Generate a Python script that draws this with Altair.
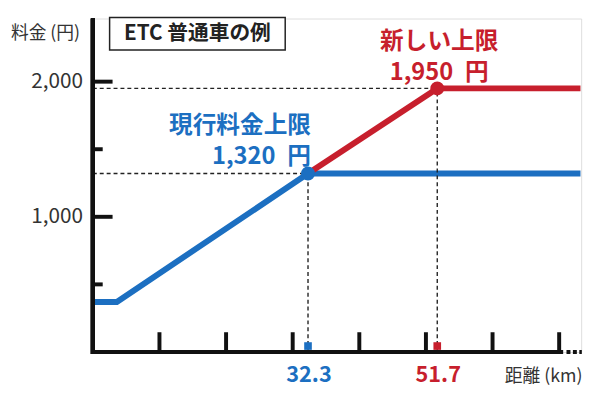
import altair as alt
import pandas as pd

# ---- data ----
km_blue = [0, 3.6, 32.3, 73.2]
fare_blue = [370, 370, 1320, 1320]
km_red = [32.3, 51.7, 73.2]
fare_red = [1320, 1950, 1950]

cap_km = [32.3, 51.7]
cap_fare = [1320, 1950]
cap_series = ["現行", "新"]
cap_label = ["現行料金上限\n1,320\u2002円", "新しい上限\n1,950\u2002円"]
cap_xlabel = ["32.3", "51.7"]

x_ticks = [10, 20, 30, 40, 50, 60, 70]
y_major = [1000, 2000]
y_major_labels = ["1,000", "2,000"]
y_minor = [500, 1500]

BLUE = "#1c6fc1"
RED = "#c71f2d"
FONT = "Noto Sans CJK JP"

W, H = 495, 338
xs = alt.Scale(domain=[0, 73.3], nice=False, zero=False)
ys = alt.Scale(domain=[0, 2467], nice=False, zero=False)

blue_df = pd.DataFrame({"km": km_blue, "fare": fare_blue})
red_df = pd.DataFrame({"km": km_red, "fare": fare_red})
cap_df = pd.DataFrame({"km": cap_km, "fare": cap_fare, "series": cap_series,
                       "label": cap_label, "xlabel": cap_xlabel,
                       "x0": [0, 0], "y0": [0, 0]})
cur_df = cap_df.iloc[[0]].reset_index(drop=True)
new_df = cap_df.iloc[[1]].reset_index(drop=True)
xt_df = pd.DataFrame({"km": x_ticks})
ymaj_df = pd.DataFrame({"fare": y_major, "lab": y_major_labels})
ymin_df = pd.DataFrame({"fare": y_minor})

def X(f="km:Q"):
    return alt.X(f, scale=xs, axis=None)

def Y(f="fare:Q"):
    return alt.Y(f, scale=ys, axis=None)

color = alt.Color("series:N", scale=alt.Scale(domain=cap_series, range=[BLUE, RED]), legend=None)

blue_line = alt.Chart(blue_df).mark_line(color=BLUE, strokeWidth=6, strokeCap="butt").encode(
    x=X(), y=Y())
red_line = alt.Chart(red_df).mark_line(color=RED, strokeWidth=6, strokeCap="butt").encode(
    x=X(), y=Y())

dash_h = alt.Chart(cap_df).mark_rule(color="#222", strokeWidth=1.4, strokeDash=[4, 3]).encode(
    x=X("x0:Q"), x2=alt.X2("km"), y=Y())
dash_v = alt.Chart(cap_df).mark_rule(color="#222", strokeWidth=1.4, strokeDash=[4, 3]).encode(
    x=X(), y=Y("y0:Q"), y2=alt.Y2("fare"))

points = alt.Chart(cap_df).mark_circle(size=200, opacity=1).encode(
    x=X(), y=Y(), color=color)

squares = alt.Chart(cap_df).mark_square(size=60, opacity=1, yOffset=-6).encode(
    x=X(), y=Y("y0:Q"), color=color)

# axes drawn as rules
y_axis_line = alt.Chart(xt_df).mark_rule(color="#111", strokeWidth=4).encode(
    x=alt.value(0), y=alt.value(0), y2=alt.value(H + 2))
axis_df = pd.DataFrame({"a": [0.0], "b": [70.6], "c": [71.1], "d": [73.4], "y": [0]})
x_axis_line = alt.Chart(axis_df).mark_rule(color="#111", strokeWidth=4).encode(
    x=X("a:Q"), x2=alt.X2("b"), y=Y("y:Q"))
x_axis_dash = alt.Chart(axis_df).mark_rule(
    color="#111", strokeWidth=4, strokeDash=[4, 2.5]).encode(
    x=X("c:Q"), x2=alt.X2("d"), y=Y("y:Q"))
x_tick_marks = alt.Chart(xt_df).mark_rule(color="#111", strokeWidth=4).encode(
    x=X(), y=alt.value(H), y2=alt.value(H - 20))
y_major_marks = alt.Chart(ymaj_df).mark_rule(color="#111", strokeWidth=4).encode(
    y=Y(), x=alt.value(0), x2=alt.value(20))
y_minor_marks = alt.Chart(ymin_df).mark_rule(color="#111", strokeWidth=4).encode(
    y=Y(), x=alt.value(0), x2=alt.value(10))
y_labels = alt.Chart(ymaj_df).mark_text(font=FONT, fontSize=21, color="#333",
                                        align="right", baseline="middle").encode(
    y=Y(), x=alt.value(-10), text="lab:N")

# annotation texts (two lines each)
t_cur = alt.Chart(cur_df).mark_text(
    font=FONT, fontSize=24, fontWeight="bold", baseline="middle", align="right",
    lineBreak="\n", lineHeight=31, dx=3, dy=-48, color=BLUE).encode(
    x=X(), y=Y(), text="label:N")
t_new = alt.Chart(new_df).mark_text(
    font=FONT, fontSize=24, fontWeight="bold", baseline="middle", align="center",
    lineBreak="\n", lineHeight=31, dx=2, dy=-47, color=RED).encode(
    x=X(), y=Y(), text="label:N")

xlab = alt.Chart(cap_df).mark_text(font=FONT, fontSize=22, fontWeight="bold",
                                   baseline="middle", dx=1).encode(
    x=X(), y=alt.value(H + 23), text="xlabel:N", color=color)

y_title_df = pd.DataFrame({"t": ["料金 (円)"]})
x_title_df = pd.DataFrame({"t": ["距離 (km)"]})
box_df = pd.DataFrame({"t": ["ETC 普通車の例"]})
ylab_title = alt.Chart(y_title_df).mark_text(
    font=FONT, fontSize=18, color="#333", baseline="middle", align="center").encode(
    x=alt.value(-48), y=alt.value(16), text="t:N")
xlab_title = alt.Chart(x_title_df).mark_text(
    font=FONT, fontSize=18, color="#333", baseline="middle", align="center").encode(
    x=alt.value(457), y=alt.value(H + 25), text="t:N")
box = alt.Chart(box_df).mark_rect(
    fill="white", stroke="#222", strokeWidth=1.5).encode(
    x=alt.value(17), x2=alt.value(195), y=alt.value(-1), y2=alt.value(32))
box_text = alt.Chart(box_df).mark_text(
    font=FONT, fontSize=21, fontWeight="bold", color="#222", baseline="middle",
    align="center").encode(x=alt.value(106), y=alt.value(16), text="t:N")

chart = alt.layer(
    blue_line, dash_h, dash_v, red_line, y_axis_line, x_axis_line, x_axis_dash,
    x_tick_marks, y_major_marks, y_minor_marks, y_labels, squares, points,
    t_cur, t_new, xlab, ylab_title, xlab_title, box, box_text,
).properties(
    width=W, height=H,
    autosize=alt.AutoSizeParams(type="none"),
    padding={"left": 86, "top": 8, "right": 11, "bottom": 45},
).configure_view(stroke=None).configure(background="white")

chart.save("out.html", embed_options={"renderer": "svg", "actions": False})
